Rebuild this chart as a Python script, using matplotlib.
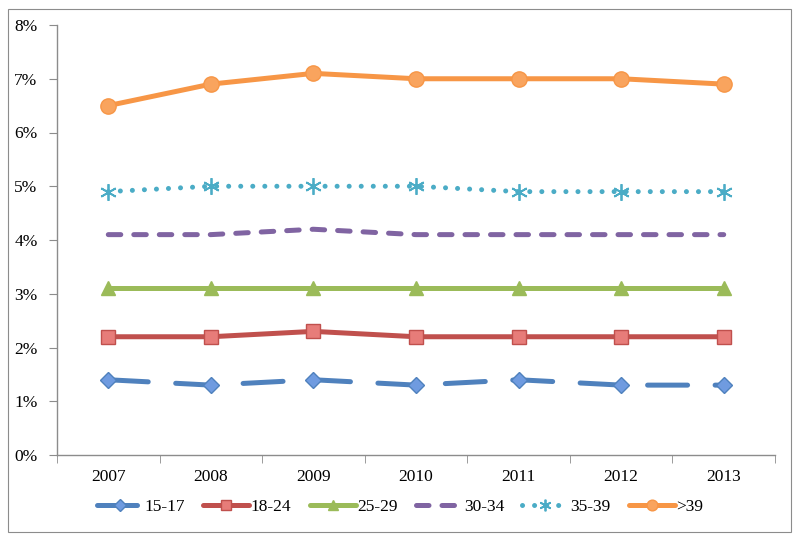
import matplotlib
matplotlib.use("Agg")
import matplotlib.pyplot as plt
from matplotlib.ticker import FuncFormatter, FixedLocator
from matplotlib.patches import Rectangle

years = ["2007", "2008", "2009", "2010", "2011", "2012", "2013"]
s_15_17 = [1.4, 1.3, 1.4, 1.3, 1.4, 1.3, 1.3]
s_18_24 = [2.2, 2.2, 2.3, 2.2, 2.2, 2.2, 2.2]
s_25_29 = [3.1, 3.1, 3.1, 3.1, 3.1, 3.1, 3.1]
s_30_34 = [4.1, 4.1, 4.2, 4.1, 4.1, 4.1, 4.1]
s_35_39 = [4.9, 5.0, 5.0, 5.0, 4.9, 4.9, 4.9]
s_gt39 = [6.5, 6.9, 7.1, 7.0, 7.0, 7.0, 6.9]
labels = ["15-17", "18-24", "25-29", "30-34", "35-39", ">39"]

plt.rcParams['font.family'] = ['Liberation Serif', 'DejaVu Serif']

fig = plt.figure(figsize=(8.0, 5.41), dpi=100)
fig.patches.append(Rectangle((8/800, 9/541), 783/800, 523/541, transform=fig.transFigure,
                             fill=False, edgecolor='#8c8c8c', lw=0.8))
ax = fig.add_axes([57/800, 1-455/541, 718/800, 430/541])

x = list(range(len(years)))
lw = 3.6
styles = [
    dict(data=s_15_17, color='#4F81BD', marker='D', ms=8.5, dashes=(8, 5.5), mfc='#6f9be0'),
    dict(data=s_18_24, color='#C0504D', marker='s', ms=10.5, dashes=None, mfc='#e77c79'),
    dict(data=s_25_29, color='#9BBB59', marker='^', ms=10, dashes=None, mfc='#9BBB59'),
    dict(data=s_30_34, color='#8064A2', marker=None, ms=0, dashes=(2.5, 2.6), mfc='#8064A2'),
    dict(data=s_35_39, color='#4BACC6', marker=(6, 2, 0), ms=12, dashes=(0.01, 2.4), mfc='#4BACC6'),
    dict(data=s_gt39, color='#F79646', marker='o', ms=11, dashes=None, mfc='#f9a45e'),
]
for st, lab in zip(styles, labels):
    kw = {}
    if st['dashes'] is not None:
        kw['dashes'] = st['dashes']
    star = st['marker'] == (6, 2, 0)
    ax.plot(x, st['data'], color=st['color'], lw=lw, label=lab,
            marker=st['marker'], markersize=st['ms'], markerfacecolor=st['mfc'],
            markeredgecolor=st['color'],
            markeredgewidth=1.3 if star else 1.0,
            dash_capstyle='round', solid_capstyle='round', **kw)

ax.set_xlim(-0.5, 6.5)
ax.set_ylim(0, 8)
ax.set_yticks(range(0, 9))
ax.yaxis.set_major_formatter(FuncFormatter(lambda v, p: f"{int(v)}%"))
ax.set_xticks(x)
ax.set_xticklabels(years)
ax.xaxis.set_minor_locator(FixedLocator([i - 0.5 for i in range(8)]))
ax.tick_params(axis='x', which='major', length=0, pad=10, labelsize=12.5)
ax.tick_params(axis='x', which='minor', length=6, color='#8c8c8c', direction='out')
ax.tick_params(axis='y', length=6, color='#8c8c8c', pad=8, labelsize=12.5)
for s in ['top', 'right']:
    ax.spines[s].set_visible(False)
for s in ['left', 'bottom']:
    ax.spines[s].set_color('#8c8c8c')
    ax.spines[s].set_linewidth(1.0)

leg = fig.legend(loc='center', bbox_to_anchor=(0.5, 1-507/541), ncol=6, frameon=False,
                 fontsize=12.5, handlelength=2.65, handletextpad=0.1, columnspacing=1.05,
                 markerscale=0.7)
fig.savefig("out.png", dpi=100)
